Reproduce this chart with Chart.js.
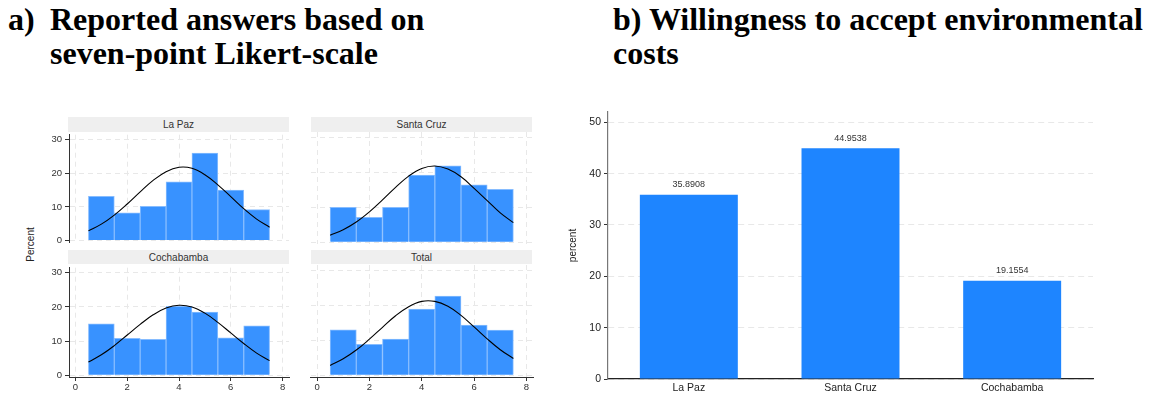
<!DOCTYPE html>
<html>
<head>
<meta charset="utf-8">
<script src="https://cdn.jsdelivr.net/npm/chart.js@4.4.1/dist/chart.umd.min.js"></script>
<style>
  body { margin: 0; background: #fff; width: 1150px; height: 396px; position: relative; overflow: hidden; font-family: "Liberation Sans", Arial, sans-serif; }
  .ttl { position: absolute; font-family: "Liberation Serif", "Times New Roman", serif; font-weight: bold; font-size: 32px; line-height: 32px; white-space: nowrap; color: #000; }
  .strip { position: absolute; background: #efefef; color: #333; font-size: 10px; line-height: 15px; text-align: center; }
  canvas { position: absolute; }
  #pctLbl { position: absolute; font-size: 10px; color: #222; transform: rotate(-90deg); transform-origin: center; width: 60px; text-align: center; }
</style>
</head>
<body>
<div class="ttl" style="left:8px; top:3px;">a)</div>
<div class="ttl" style="left:50px; top:3px;">Reported answers based on</div>
<div class="ttl" style="left:50px; top:37px;">seven-point Likert-scale</div>
<div class="ttl" style="left:613px; top:3px;">b) Willingness to accept environmental</div>
<div class="ttl" style="left:613px; top:37px;">costs</div>

<div class="strip" style="left:68px; top:117px; width:221px; height:15px;">La Paz</div>
<div class="strip" style="left:311px; top:117px; width:221px; height:15px;">Santa Cruz</div>
<div class="strip" style="left:68px; top:250px; width:221px; height:14px;">Cochabamba</div>
<div class="strip" style="left:311px; top:250px; width:221px; height:14px;">Total</div>
<div id="pctLbl" style="left:0px; top:239px;">Percent</div>

<canvas id="cLaPaz" width="259" height="125" style="left:34px; top:126px;"></canvas>
<canvas id="cSantaCruz" width="231" height="125" style="left:306px; top:126px;"></canvas>
<canvas id="cCocha" width="259" height="136" style="left:34px; top:259px;"></canvas>
<canvas id="cTotal" width="231" height="136" style="left:306px; top:259px;"></canvas>
<canvas id="cWta" width="545" height="296" style="left:563px; top:100px;"></canvas>

<script>
// histogram bins (Likert answers 1..7), percent per bin
const binMid = [1, 2, 3, 4, 5, 6, 7];
const laPaz = [13.2, 8.3, 10.2, 17.5, 26.0, 15.0, 9.2];
const santaCruz = [10.0, 7.1, 10.0, 19.2, 21.8, 16.4, 15.1];
const cochabamba = [15.1, 10.8, 10.5, 20.2, 18.5, 11.0, 14.5];
const total = [13.0, 8.8, 10.3, 18.9, 22.6, 14.3, 12.9];

// normal curve, every half step
const curveX = [0.5, 1, 1.5, 2, 2.5, 3, 3.5, 4, 4.5, 5, 5.5, 6, 6.5, 7, 7.5];
const laPazCurve = [2.9, 4.9, 7.6, 10.9, 14.5, 17.9, 20.5, 21.8, 21.5, 19.6, 16.6, 13.1, 9.5, 6.4, 4.0];
const santaCruzCurve = [2.0, 3.6, 5.8, 8.7, 12.1, 15.7, 18.9, 21.1, 21.8, 20.9, 18.7, 15.4, 11.9, 8.4, 5.6];
const cochabambaCurve = [3.9, 6.0, 8.7, 11.8, 14.9, 17.7, 19.7, 20.5, 20.0, 18.2, 15.5, 12.4, 9.3, 6.5, 4.3];
const totalCurve = [2.8, 4.7, 7.2, 10.3, 13.7, 17.0, 19.6, 21.1, 21.1, 19.7, 17.1, 13.8, 10.4, 7.3, 4.8];

const histXTicks = [0, 2, 4, 6, 8];
const histYTicks = [0, 10, 20, 30];

// panel b
const cities = ['La Paz', 'Santa Cruz', 'Cochabamba'];
const wtaPercent = [35.8908, 44.9538, 19.1554];

const fontSans = '"Liberation Sans", Arial, sans-serif';
const gridCol = '#e8e8e8';

function makeHist(id, values, curve, showY, showX, yWidth, xHeight) {
    const ctx = document.getElementById(id).getContext('2d');
    return new Chart(ctx, {
        type: 'bar',
        data: {
            datasets: [{
                type: 'line',
                data: curveX.map((x, i) => ({x: x, y: curve[i]})),
                borderColor: '#000',
                borderWidth: 1.1,
                pointRadius: 0,
                tension: 0.4,
                fill: false,
                order: 0
            }, {
                type: 'bar',
                data: binMid.map((x, i) => ({x: x, y: values[i]})),
                backgroundColor: '#3892ff',
                borderColor: '#86bcff',
                borderWidth: 1,
                barPercentage: 1,
                categoryPercentage: 1,
                order: 1
            }]
        },
        options: {
            responsive: false,
            animation: false,
            devicePixelRatio: 1,
            layout: { padding: { top: 6, right: 4, left: 0, bottom: 0 } },
            plugins: { legend: { display: false }, tooltip: { enabled: false } },
            scales: {
                x: {
                    type: 'linear',
                    offset: false,
                    min: -0.25,
                    max: 8.25,
                    afterBuildTicks: s => { s.ticks = histXTicks.map(v => ({value: v})); },
                    afterFit: s => { s.height = xHeight; },
                    grid: { offset: false, color: gridCol, drawTicks: showX, tickLength: 4, tickColor: '#333' },
                    border: { display: showX, color: '#333', dash: [5, 4] },
                    ticks: { display: showX, color: '#333', font: { family: fontSans, size: 9.5 }, padding: 1, maxRotation: 0 }
                },
                y: {
                    min: -0.5,
                    max: 31.5,
                    afterBuildTicks: s => { s.ticks = histYTicks.map(v => ({value: v})); },
                    afterFit: s => { s.width = yWidth; },
                    grid: { color: gridCol, drawTicks: showY, tickLength: 4, tickColor: '#333' },
                    border: { display: showY, color: '#333', dash: [5, 4] },
                    ticks: { display: showY, color: '#333', font: { family: fontSans, size: 9.5 }, padding: 3 }
                }
            }
        }
    });
}

makeHist('cLaPaz', laPaz, laPazCurve, true, false, 35, 7);
makeHist('cSantaCruz', santaCruz, santaCruzCurve, false, false, 4.5, 7);
makeHist('cCocha', cochabamba, cochabambaCurve, true, true, 35, 18);
makeHist('cTotal', total, totalCurve, false, true, 4.5, 18);

// labels above the bars of panel b
const barValues = {
    id: 'barValues',
    afterDatasetsDraw(chart) {
        const c = chart.ctx;
        c.save();
        c.font = '9px ' + fontSans;
        c.fillStyle = '#333';
        c.textAlign = 'center';
        c.textBaseline = 'middle';
        chart.getDatasetMeta(0).data.forEach((bar, i) => {
            c.fillText(wtaPercent[i].toFixed(4), bar.x, bar.y - 10);
        });
        c.restore();
    }
};

new Chart(document.getElementById('cWta').getContext('2d'), {
    type: 'bar',
    data: {
        labels: cities,
        datasets: [{
            data: wtaPercent,
            backgroundColor: '#1e85ff',
            borderWidth: 0,
            barPercentage: 0.606,
            categoryPercentage: 1
        }]
    },
    options: {
        responsive: false,
        animation: false,
        devicePixelRatio: 1,
        layout: { padding: { top: 12, right: 15, left: 0, bottom: 0 } },
        plugins: { legend: { display: false }, tooltip: { enabled: false } },
        scales: {
            x: {
                afterFit: s => { s.height = 17; },
                grid: { display: false, drawTicks: false },
                border: { color: '#222', width: 1.2 },
                ticks: { color: '#222', font: { family: fontSans, size: 10.5 }, padding: 3 }
            },
            y: {
                min: 0,
                max: 52,
                afterBuildTicks: s => { s.ticks = [0, 10, 20, 30, 40, 50].map(v => ({value: v})); },
                afterFit: s => { s.width = 45; },
                grid: { color: gridCol, tickLength: 4, tickColor: '#333' },
                border: { color: '#777', width: 1.2, dash: [6, 4] },
                title: { display: true, text: 'percent', color: '#222', font: { family: fontSans, size: 10 }, padding: { top: 4, bottom: 0 } },
                ticks: { color: '#222', font: { family: fontSans, size: 10.5 }, padding: 3 }
            }
        }
    },
    plugins: [barValues]
});
</script>
</body>
</html>
